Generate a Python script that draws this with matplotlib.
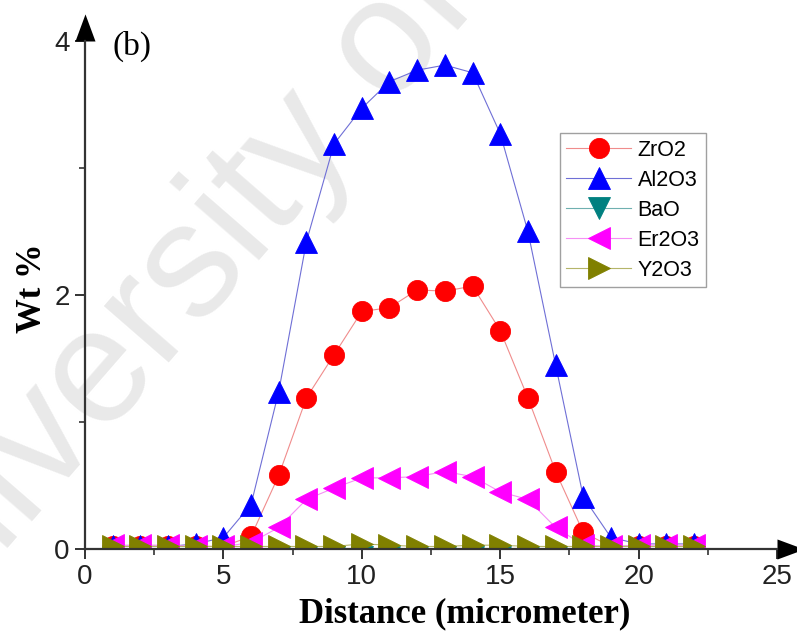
import numpy as np
import matplotlib
matplotlib.use('Agg')
from matplotlib import pyplot as plt
from matplotlib.ticker import MultipleLocator

# EDX line scan across the interface, distance in micrometer
distance = [1, 2, 3, 4, 5, 6, 7, 8, 9, 10, 11, 12, 13, 14, 15, 16, 17, 18, 19, 20, 21, 22]

zro2 = [0.02, 0.02, 0.02, 0.02, 0.02, 0.10, 0.58, 1.19, 1.53, 1.87, 1.90,
        2.04, 2.03, 2.07, 1.72, 1.19, 0.61, 0.13, 0.02, 0.02, 0.02, 0.02]
al2o3 = [0.02, 0.02, 0.02, 0.04, 0.09, 0.35, 1.24, 2.42, 3.19, 3.47, 3.68,
         3.77, 3.81, 3.75, 3.27, 2.50, 1.45, 0.41, 0.09, 0.04, 0.04, 0.04]
bao = [-0.06, -0.06, -0.06, -0.06, -0.06, -0.06, -0.06, -0.06, -0.06, -0.06, -0.06,
       -0.06, -0.06, -0.06, -0.06, -0.06, -0.06, -0.06, -0.06, -0.06, -0.06, -0.06]
er2o3 = [0.03, 0.03, 0.03, 0.02, 0.02, 0.05, 0.17, 0.39, 0.48, 0.56, 0.56,
         0.57, 0.61, 0.57, 0.45, 0.39, 0.17, 0.03, 0.02, 0.03, 0.03, 0.03]
y2o3 = [0.02, 0.02, 0.02, 0.02, 0.02, 0.02, 0.02, 0.02, 0.02, 0.04, 0.03,
        0.02, 0.02, 0.03, 0.03, 0.02, 0.02, 0.02, 0.02, 0.02, 0.02, 0.02]

series = [
    ('ZrO2', zro2, 'o', '#ff0000', '#f08c8c', 14.5),
    ('Al2O3', al2o3, '^', '#0000ff', '#6f6fd6', 16),
    ('BaO', bao, 'v', '#008080', '#6fb0b0', 16),
    ('Er2O3', er2o3, '<', '#ff00ff', '#f590f5', 16),
    ('Y2O3', y2o3, '>', '#808000', '#b5b56a', 16),
]

fig = plt.figure(figsize=(7.97, 6.4), dpi=100)
ax = fig.add_axes([0.1066, 0.1422, 0.975 - 0.1066, 0.936 - 0.1422])
ax.patch.set_alpha(0)

# faint watermark running under the data
fig.text(-0.1417, -0.0736, 'University of Malaya', rotation=49,
         rotation_mode='anchor', ha='left', va='baseline', fontsize=118,
         family='Liberation Sans', color='#e9e9e9', zorder=-1)

for name, vals, mk, col, lcol, ms in series:
    ax.plot(distance, vals, color=lcol, lw=0.8, marker=mk, ms=ms,
            mfc=col, mec=col, mew=0.6, label=name)

ax.set_xlim(0, 25)
ax.set_ylim(0, 4)
ax.xaxis.set_major_locator(MultipleLocator(5))
ax.xaxis.set_minor_locator(MultipleLocator(2.5))
ax.yaxis.set_major_locator(MultipleLocator(2))
ax.yaxis.set_minor_locator(MultipleLocator(1))

for s in ['top', 'right']:
    ax.spines[s].set_visible(False)
for s in ['left', 'bottom']:
    ax.spines[s].set_color('#333333')
    ax.spines[s].set_linewidth(1.6)

ax.tick_params(which='major', direction='out', length=7, width=1.4,
               color='#333333', labelsize=20, labelcolor='#222222', pad=4)
ax.tick_params(which='minor', direction='out', length=4, width=1.2, color='#333333')
for lab in ax.get_xticklabels() + ax.get_yticklabels():
    lab.set_family('Liberation Sans')

# arrow heads at the axis ends
arrow_x = [(0, -0.37), (1, 0), (0, 0.37)]
arrow_y = [(-0.37, 0), (0, 1), (0.37, 0)]
ax.plot(1, 0, marker=arrow_x, ms=39, color='black', mew=0,
        transform=ax.transAxes, clip_on=False)
ax.plot(0, 1, marker=arrow_y, ms=39, color='black', mew=0,
        transform=ax.transAxes, clip_on=False)

ax.set_xlabel('Distance (micrometer)', family='Liberation Serif',
              fontweight='bold', fontsize=25, labelpad=5)
ax.xaxis.label.set_x(0.549)
ax.set_ylabel('Wt %', family='Liberation Serif', fontweight='bold',
              fontsize=25, labelpad=4)
ax.yaxis.label.set_y(0.514)
ax.text(0.04, 0.99, '(b)', transform=ax.transAxes, family='Liberation Serif',
        fontsize=24, va='center', ha='left')

leg = ax.legend(loc='upper left', bbox_to_anchor=(0.7026, 0.792),
                bbox_transform=fig.transFigure, frameon=True, fancybox=False,
                prop={'family': 'Liberation Sans', 'size': 15.5},
                handlelength=3.0, handletextpad=0.3, labelspacing=0.42,
                borderpad=0.3, borderaxespad=0, markerscale=1.0)
leg.get_frame().set_edgecolor('#888888')
leg.get_frame().set_linewidth(1.0)

fig.savefig('out.png', dpi=100)
